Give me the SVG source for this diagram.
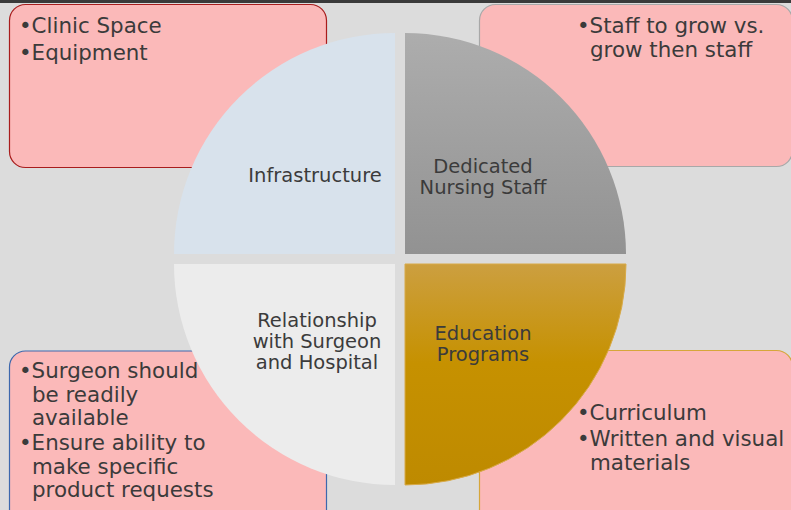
<svg xmlns="http://www.w3.org/2000/svg" width="791" height="510" viewBox="0 0 791 510">
<defs>
<linearGradient id="gGray" x1="0" y1="0" x2="0" y2="1">
<stop offset="0" stop-color="#adadad"/>
<stop offset="1" stop-color="#929292"/>
</linearGradient>
<linearGradient id="gGold" x1="0" y1="0" x2="0" y2="1">
<stop offset="0" stop-color="#cc9f40"/>
<stop offset="0.45" stop-color="#c69100"/>
<stop offset="1" stop-color="#be8a00"/>
</linearGradient>
<style>
.box{fill:#fbb9b9;stroke-width:1.2}
.bt{font-family:"DejaVu Sans",Verdana,sans-serif;font-size:21.4px;fill:#3b3b3b}
.lbl{font-family:"DejaVu Sans",Verdana,sans-serif;font-size:19.5px;fill:#3b3b3b;text-anchor:middle}
</style>
</defs>
<rect width="791" height="510" fill="#dcdcdc"/>
<rect width="791" height="3" fill="#3a3a3a"/>
<g id="box-tl"><rect class="box" x="9.5" y="4.5" width="317" height="163" rx="16" stroke="#a81c1c"/>
<text class="bt" x="19" y="33">•Clinic Space</text>
<text class="bt" x="19" y="60">•Equipment</text></g>
<g id="box-tr"><rect class="box" x="479.5" y="4.5" width="313" height="162" rx="16" stroke="#a8a8a8"/>
<text class="bt" x="577" y="33">•Staff to grow vs.</text>
<text class="bt" x="590" y="57">grow then staff</text></g>
<g id="box-bl"><rect class="box" x="9.5" y="351" width="317" height="175" rx="16" stroke="#3c68ad"/>
<text class="bt" x="19" y="378">•Surgeon should</text>
<text class="bt" x="32" y="402">be readily</text>
<text class="bt" x="32" y="425">available</text>
<text class="bt" x="19" y="450">•Ensure ability to</text>
<text class="bt" x="32" y="474">make specific</text>
<text class="bt" x="32" y="497">product requests</text></g>
<g id="box-br"><rect class="box" x="479.5" y="350.5" width="313" height="176" rx="16" stroke="#d6a63a"/>
<text class="bt" x="577" y="420">•Curriculum</text>
<text class="bt" x="577" y="446">•Written and visual</text>
<text class="bt" x="590" y="470">materials</text></g>
<g id="q-infrastructure"><path d="M395 254 L174 254 A221 221 0 0 1 395 33 Z" fill="#d8e2ec"/>
<text class="lbl" x="315" y="182">Infrastructure</text></g>
<g id="q-nursing"><path d="M405 254 L405 33 A221 221 0 0 1 626 254 Z" fill="url(#gGray)"/>
<text class="lbl" x="483" y="173">Dedicated</text>
<text class="lbl" x="483" y="194">Nursing Staff</text></g>
<g id="q-relationship"><path d="M395 264 L395 485 A221 221 0 0 1 174 264 Z" fill="#ececec"/>
<text class="lbl" x="317" y="327">Relationship</text>
<text class="lbl" x="317" y="348">with Surgeon</text>
<text class="lbl" x="317" y="369">and Hospital</text></g>
<g id="q-education"><path d="M405 264 L626 264 A221 221 0 0 1 405 485 Z" fill="url(#gGold)" stroke="#d8aa48" stroke-width="1"/>
<text class="lbl" x="483" y="340">Education</text>
<text class="lbl" x="483" y="361">Programs</text></g>
<g id="connectors"></g>
</svg>
